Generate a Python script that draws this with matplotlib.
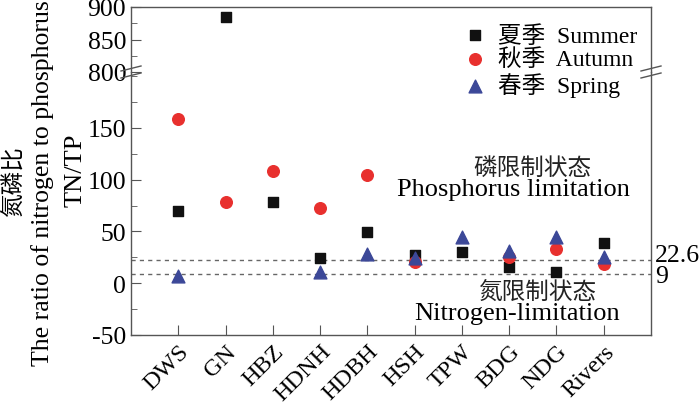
import numpy as np
import matplotlib
matplotlib.use("Agg")
import matplotlib.pyplot as plt
from matplotlib.ticker import MultipleLocator
from matplotlib.transforms import blended_transform_factory

plt.rcParams['font.family'] = ['Liberation Serif', 'Noto Sans CJK SC']
plt.rcParams['axes.unicode_minus'] = False

sites = ["DWS", "GN", "HBZ", "HDNH", "HDBH", "HSH", "TPW", "BDG", "NDG", "Rivers"]
summer = [70, 885, 78, 24.5, 49, 27, 30, 15.5, 11, 39]
autumn = [158.5, 78, 108.5, 72.5, 105, 20.5, np.nan, 25.5, 33.5, 19]
spring = [7, np.nan, np.nan, 10.5, 28.5, 24.5, 45, 31, 45, 25]
p_limit = 22.6
n_limit = 9

c_summer = "#111111"
c_autumn = "#e8302e"
c_spring = "#3c4898"
spine_c = "#555555"

fig = plt.figure(figsize=(7, 4.1), dpi=100)
L, R = 131 / 700, 651 / 700
y_bot, y_brk, y_top = 1 - 336 / 410, 1 - 73 / 410, 1 - 8 / 410
ax = fig.add_axes([L, y_bot, R - L, y_brk - y_bot])
ax_up = fig.add_axes([L, y_brk, R - L, y_top - y_brk])

x = np.arange(1, len(sites) + 1)
for a in (ax, ax_up):
    a.scatter(x, summer, marker="s", s=45, color=c_summer, zorder=3, label="夏季  Summer")
    a.scatter(x, autumn, marker="o", s=70, color=c_autumn, zorder=3, label="秋季  Autumn")
    a.scatter(x, spring, marker="^", s=85, color=c_spring, zorder=4, label="春季  Spring")
    a.set_xlim(0, 11)
    for s in a.spines.values():
        s.set_color(spine_c)
        s.set_linewidth(1)
    a.tick_params(axis="both", which="both", direction="in", colors=spine_c,
                  labelcolor="black", labelsize=18.5, right=False, top=False)
    a.tick_params(which="major", length=7)
    a.tick_params(which="minor", length=4)

ax.set_ylim(-50, 204)
ax.yaxis.set_major_locator(MultipleLocator(50))
ax.yaxis.set_minor_locator(MultipleLocator(25))
ax.set_yticks([-50, 0, 50, 100, 150])
ax.spines["top"].set_visible(False)
ax.set_xticks(x)
ax.set_xticklabels(sites, rotation=45, ha="right", va="top", rotation_mode="anchor")
ax.tick_params(axis="x", pad=4, labelsize=17.5)

ax_up.set_ylim(800, 900)
ax_up.set_yticks([800, 850, 900])
ax_up.yaxis.set_minor_locator(MultipleLocator(25))
ax_up.spines["bottom"].set_visible(False)
ax_up.set_xticks([])

ax.axhline(p_limit, color="#666666", lw=1, ls=(0, (3, 3)), zorder=1)
ax.axhline(n_limit, color="#666666", lw=1, ls=(0, (3, 3)), zorder=1)
tr = blended_transform_factory(ax.transAxes, ax.transData)
ax.text(1.008, 21.5, "22.6", transform=tr, ha="left", va="baseline", fontsize=18.5)
ax.text(1.008, 1.5, "9", transform=tr, ha="left", va="baseline", fontsize=18.5)

ax.text(8.48, 111, "磷限制状态", ha="center", va="center", fontsize=17, color="#222222")
ax.text(8.08, 91, "Phosphorus limitation", ha="center", va="center", fontsize=19)
ax.text(8.59, -8, "氮限制状态", ha="center", va="center", fontsize=17, color="#222222")
ax.text(8.17, -29, "Nitrogen-limitation", ha="center", va="center", fontsize=19)

# break marks on both spines
for xb in (L, R):
    for dy in (-3.5, 3.5):
        x0, x1 = xb - 10 / 700, xb + 10 / 700
        yc = y_brk + dy / 410
        fig.add_artist(plt.Line2D([x0, x1], [yc - 2.5 / 410, yc + 2.5 / 410],
                                  color=spine_c, lw=1, transform=fig.transFigure))

handles, labels = ax.get_legend_handles_labels()
fig.legend(handles, labels, loc="upper left", bbox_to_anchor=(451 / 700, 1 - 14 / 410),
           frameon=False, fontsize=17, handletextpad=0.5, labelspacing=0.08,
           handlelength=1.0, borderpad=0, scatterpoints=1)

fig.text(14 / 700, 1 - 182 / 410, "氮磷比", rotation=90, ha="center", va="center", fontsize=17)
fig.text(43 / 700, 1 - 183 / 410, "The ratio of nitrogen to phosphorus", rotation=90,
         ha="center", va="center", fontsize=18.5)
fig.text(76 / 700, 1 - 170 / 410, "TN/TP", rotation=90, ha="center", va="center", fontsize=19)

fig.savefig("out.png", dpi=100)
